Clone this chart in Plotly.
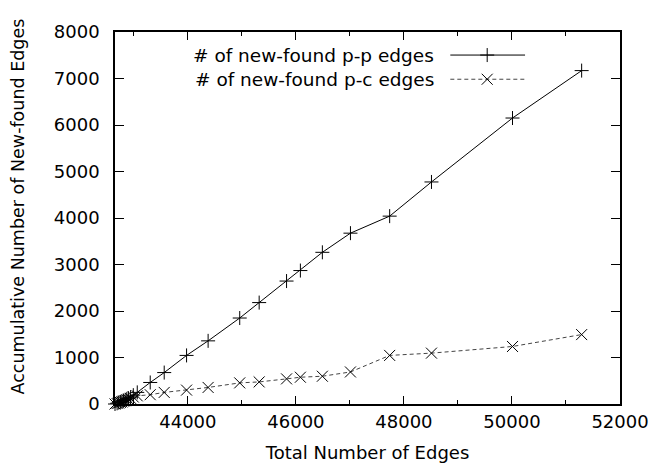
import plotly.graph_objects as go

# ---- data ----
total_edges = [42651, 42690, 42720, 42750, 42780, 42810, 42840, 42870, 42900, 42940, 42990,
               43063, 43303, 43562, 43976, 44375, 44960, 45320, 45827, 46083, 46490,
               47010, 47736, 48510, 50010, 51290]
pp_edges = [0, 15, 30, 45, 60, 75, 90, 110, 125, 150, 190,
            250, 463, 676, 1045, 1358, 1849, 2181, 2644, 2870, 3262,
            3674, 4040, 4775, 6150, 7170]
pc_edges = [0, 10, 20, 35, 45, 60, 70, 85, 100, 120, 150,
            175, 200, 249, 299, 356, 454, 475, 540, 576, 597,
            689, 1045, 1094, 1237, 1493]
series_names = ["# of new-found p-p edges", "# of new-found p-c edges"]
x_ticks = [44000, 46000, 48000, 50000, 52000]
x_tick_labels = ["44000", "46000", "48000", "50000", "52000"]
y_ticks = [0, 1000, 2000, 3000, 4000, 5000, 6000, 7000, 8000]
y_tick_labels = ["0", "1000", "2000", "3000", "4000", "5000", "6000", "7000", "8000"]
x_title = "Total Number of Edges"
y_title = "Accumulative Number of New-found Edges"

FONT = "DejaVu Sans, Liberation Sans, Arial, sans-serif"
FS = 18

fig = go.Figure()
fig.add_trace(go.Scatter(
    x=total_edges, y=pp_edges, mode="lines+markers", name=series_names[0],
    line=dict(color="black", width=1),
    marker=dict(symbol="cross-thin-open", size=10, color="black",
                line=dict(color="black", width=1)),
    cliponaxis=False, showlegend=False))
fig.add_trace(go.Scatter(
    x=total_edges, y=pc_edges, mode="lines+markers", name=series_names[1],
    line=dict(color="#444444", width=1, dash="4px,3px"),
    marker=dict(symbol="x-thin-open", size=11, color="black",
                line=dict(color="black", width=1)),
    cliponaxis=False, showlegend=False))

# custom gnuplot-style legend (text right, sample on the right)
leg_rows = [0.938, 0.873]
for name, row in zip(series_names, leg_rows):
    fig.add_annotation(xref="paper", yref="paper", x=0.636, y=row, text=name,
                       showarrow=False, xanchor="right", yanchor="middle",
                       font=dict(family=FONT, size=18.5, color="black"))
fig.add_trace(go.Scatter(
    x=[0.664, 0.812], y=[leg_rows[0]] * 2, xaxis="x2", yaxis="y2", mode="lines",
    line=dict(color="black", width=1), showlegend=False, hoverinfo="skip"))
fig.add_trace(go.Scatter(
    x=[0.664, 0.812], y=[leg_rows[1]] * 2, xaxis="x2", yaxis="y2", mode="lines",
    line=dict(color="#444444", width=1, dash="4px,3px"), showlegend=False, hoverinfo="skip"))
fig.add_trace(go.Scatter(
    x=[0.737], y=[leg_rows[0]], xaxis="x2", yaxis="y2", mode="markers",
    marker=dict(symbol="cross-thin-open", size=10, color="black",
                line=dict(color="black", width=1)),
    showlegend=False, hoverinfo="skip"))
fig.add_trace(go.Scatter(
    x=[0.737], y=[leg_rows[1]], xaxis="x2", yaxis="y2", mode="markers",
    marker=dict(symbol="x-thin-open", size=11, color="black",
                line=dict(color="black", width=1)),
    showlegend=False, hoverinfo="skip"))

# y-axis title (placed like gnuplot's, slightly above the plot centre)
fig.add_annotation(xref="paper", yref="paper", x=0, y=0.531, xshift=-97,
                   text=y_title, textangle=-90, showarrow=False,
                   xanchor="center", yanchor="middle",
                   font=dict(family=FONT, size=17.5, color="black"))

axis_common = dict(
    showgrid=False, zeroline=False, showline=True, linecolor="black", linewidth=1.5,
    mirror="allticks", ticks="inside", tickcolor="black", tickwidth=1.2,
    tickfont=dict(family=FONT, size=FS, color="black"),
)

fig.update_layout(
    width=658, height=464,
    margin=dict(l=107, r=46, t=24, b=65),
    paper_bgcolor="white", plot_bgcolor="white",
    font=dict(family=FONT, size=FS, color="black"),
    xaxis=dict(**axis_common, range=[42651, 52000], tickvals=x_ticks, ticktext=x_tick_labels,
               ticklen=8, ticklabelstandoff=1,
               minor=dict(ticks="inside", ticklen=4, dtick=1000, tick0=0,
                          tickcolor="black", tickwidth=1.2),
               title=dict(text=x_title, standoff=15,
                          font=dict(family=FONT, size=FS, color="black"))),
    yaxis=dict(**axis_common, range=[0, 8000], tickvals=y_ticks, ticktext=y_tick_labels,
               ticklen=9, ticklabelstandoff=10),
    xaxis2=dict(overlaying="x", range=[0, 1], visible=False),
    yaxis2=dict(overlaying="y", range=[0, 1], visible=False),
)

fig.write_html("out.html")
